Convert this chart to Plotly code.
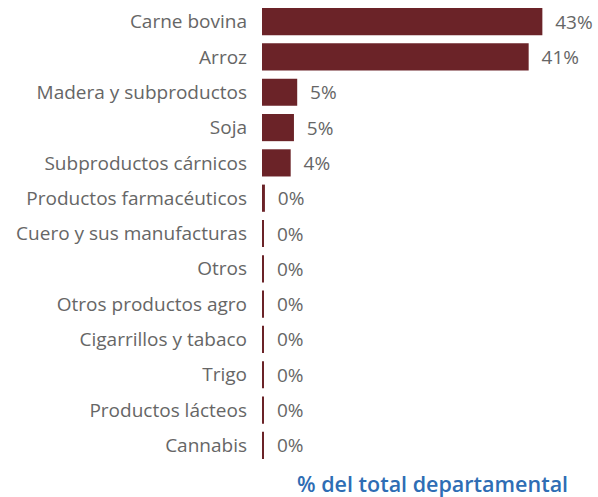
import plotly.graph_objects as go

categories = ["Carne bovina", "Arroz", "Madera y subproductos", "Soja",
              "Subproductos cárnicos", "Productos farmacéuticos",
              "Cuero y sus manufacturas", "Otros", "Otros productos agro",
              "Cigarrillos y tabaco", "Trigo", "Productos lácteos", "Cannabis"]
values = [43.0, 40.9, 5.4, 4.9, 4.4, 0.45, 0.3, 0.3, 0.3, 0.3, 0.3, 0.3, 0.3]
axis_title = "% del total departamental"

fig = go.Figure(go.Bar(
    x=values, y=categories, orientation="h",
    marker=dict(color="#6B2328", line=dict(width=0)),
    text=["\u00a0\u00a0" + f"{v:.0f}%" for v in values], textposition="outside",
    textfont=dict(color="#666666", size=19, family="Open Sans"),
    cliponaxis=False,
))
fig.update_layout(
    width=598, height=497,
    margin=dict(l=262, r=10, t=4, b=34, autoexpand=False),
    plot_bgcolor="white", paper_bgcolor="white",
    bargap=0.23, showlegend=False,
    font=dict(family="Open Sans", color="#666666", size=19),
)
fig.update_yaxes(autorange="reversed", showgrid=False, zeroline=False,
                 showline=False, ticks="", ticklabelstandoff=14, automargin=False,
                 tickfont=dict(size=19, color="#666666", family="Open Sans"))
fig.update_xaxes(range=[0, 50], showgrid=False, zeroline=False, automargin=False,
                 showticklabels=False, showline=False, ticks="")
fig.add_annotation(text=axis_title, xref="paper", yref="paper", x=0.5, y=0,
                   xanchor="center", yanchor="middle", xshift=7, yshift=-20,
                   showarrow=False,
                   font=dict(size=21.5, color="#2E6DB4", family="Open Sans", weight=600))
fig.write_html("out.html", config={"displayModeBar": False},
               post_script="document.body.style.margin='0';")
